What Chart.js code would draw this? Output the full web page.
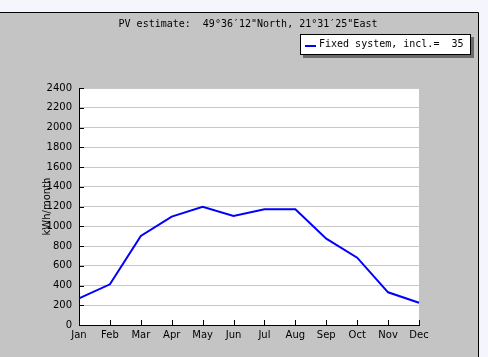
<!DOCTYPE html>
<html>
<head>
<meta charset="utf-8">
<script src="https://cdn.jsdelivr.net/npm/chart.js@4/dist/chart.umd.min.js"></script>
<style>
html,body{margin:0;padding:0;background:#f5f5fd;}
canvas{display:block;}
</style>
</head>
<body>
<canvas id="c" width="488" height="357"></canvas>
<script>
const months = ["Jan","Feb","Mar","Apr","May","Jun","Jul","Aug","Sep","Oct","Nov","Dec"];
const fixedSystem = [270, 412, 901, 1097, 1198, 1104, 1171, 1171, 874, 682, 331, 226];
const yTicks = [0,200,400,600,800,1000,1200,1400,1600,1800,2000,2200,2400];
const chartTitle = "PV estimate:  49\u00b036\u203212\"North, 21\u00b031\u203225\"East";
const legendLabel = "Fixed system, incl.=  35";
const yTitle = "kWh/month";

const MONO = "'DejaVu Sans Mono', monospace";
const SANS = "'DejaVu Sans', sans-serif";

const decor = {
  id: 'decor',
  beforeDraw(chart) {
    const ctx = chart.ctx, a = chart.chartArea;
    ctx.save();
    ctx.fillStyle = '#f5f5fd';
    ctx.fillRect(0, 0, 488, 357);
    ctx.fillStyle = '#c4c4c4';
    ctx.fillRect(0, 12, 478, 345);
    ctx.strokeStyle = '#000';
    ctx.lineWidth = 1;
    ctx.beginPath();
    ctx.moveTo(0, 12.5); ctx.lineTo(478.5, 12.5); ctx.lineTo(478.5, 357);
    ctx.stroke();
    ctx.fillStyle = '#ffffff';
    ctx.fillRect(a.left, a.top, a.right - a.left, a.bottom - a.top);
    ctx.restore();
  },
  afterDatasetsDraw(chart) {
    const ctx = chart.ctx, a = chart.chartArea;
    const xs = chart.scales.x, ys = chart.scales.y;
    ctx.save();
    ctx.strokeStyle = '#000';
    ctx.lineWidth = 1;
    ctx.beginPath();
    months.forEach((m, i) => {
      const x = Math.round(xs.getPixelForValue(i)) + 0.5;
      ctx.moveTo(x, a.bottom); ctx.lineTo(x, a.bottom - 5);
    });
    yTicks.forEach(v => {
      const y = Math.round(ys.getPixelForValue(v)) + 0.5;
      ctx.moveTo(a.left, y); ctx.lineTo(a.left + 5, y);
    });
    ctx.stroke();
    ctx.restore();
  },
  afterDraw(chart) {
    const ctx = chart.ctx;
    ctx.save();
    ctx.fillStyle = '#000';
    ctx.font = "10px " + MONO;
    ctx.textAlign = 'center';
    ctx.textBaseline = 'middle';
    ctx.fillText(chartTitle, 248, 24);
    // legend box
    ctx.fillStyle = '#6a6a6a';
    ctx.fillRect(303, 37, 171, 21);
    ctx.fillStyle = '#ffffff';
    ctx.fillRect(300, 34, 171, 21);
    ctx.strokeStyle = '#000';
    ctx.lineWidth = 1;
    ctx.strokeRect(300.5, 34.5, 170, 20);
    ctx.strokeStyle = '#0000ff';
    ctx.lineWidth = 2;
    ctx.beginPath();
    ctx.moveTo(305, 46); ctx.lineTo(316, 46);
    ctx.stroke();
    ctx.fillStyle = '#000';
    ctx.textAlign = 'left';
    ctx.fillText(legendLabel, 319, 44.5);
    ctx.restore();
  }
};

new Chart(document.getElementById('c'), {
  type: 'line',
  data: {
    labels: months,
    datasets: [{
      label: legendLabel,
      data: fixedSystem,
      borderColor: '#0000ff',
      borderWidth: 2,
      pointRadius: 0,
      tension: 0,
      fill: false
    }]
  },
  options: {
    responsive: false,
    animation: false,
    devicePixelRatio: 1,
    layout: { padding: { left: 0, top: 88, right: 69, bottom: 0 } },
    plugins: { legend: { display: false }, title: { display: false }, tooltip: { enabled: false } },
    scales: {
      x: {
        offset: false,
        grid: { display: false, drawTicks: false },
        border: { display: true, color: '#000', width: 1 },
        ticks: { color: '#000', font: { family: SANS, size: 10 }, padding: 4, maxRotation: 0, autoSkip: false },
        afterFit(s) { s.height = 32; }
      },
      y: {
        min: 0, max: 2400,
        afterBuildTicks(s) { s.ticks = yTicks.map(v => ({ value: v })); },
        grid: { color: '#c8c8c8', drawTicks: false, lineWidth: 1 },
        border: { display: true, color: '#000', width: 1 },
        ticks: { color: '#000', font: { family: SANS, size: 10 }, padding: 7, callback: v => String(v) },
        title: { display: true, text: yTitle, color: '#000', font: { family: SANS, size: 10 }, padding: { top: 41, bottom: 0 } },
        afterFit(s) { s.width = 79; }
      }
    }
  },
  plugins: [decor]
});
</script>
</body>
</html>
